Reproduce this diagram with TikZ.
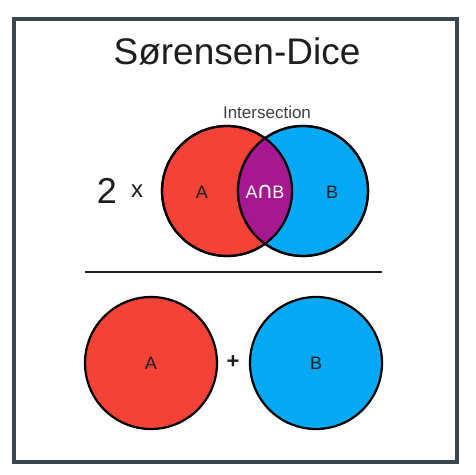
\documentclass[tikz,border=0pt]{standalone}
\usepackage{fontspec}
\setmainfont{Liberation Sans}
\newfontfamily\symfont{DejaVu Sans}
\definecolor{setred}{HTML}{F44336}
\definecolor{setblue}{HTML}{03A9F4}
\definecolor{setpurple}{HTML}{A5188F}
\definecolor{framecol}{HTML}{3A454D}
\definecolor{txt}{HTML}{1E1E1E}
\begin{document}
\begin{tikzpicture}[x=1pt,y=-1pt,
  setcircle/.style={circle,draw=black,line width=2.2pt,inner sep=0pt},
  lbl/.style={font=\fontsize{18}{20}\selectfont,text=txt,inner sep=0pt}]
\useasboundingbox (0,0) rectangle (476,474);
\fill[white] (0,0) rectangle (476,474);
\draw[framecol,line width=3.2pt] (14,19) rectangle (457,462);
\node[font=\fontsize{37}{40}\selectfont,text=txt] (title) at (237,51) {Sørensen-Dice};
% top Venn
\node[setcircle,fill=setred,minimum size=130pt] (vA) at (227,191) {};
\node[setcircle,fill=setblue,minimum size=130pt] (vB) at (303,191) {};
\begin{scope}
  \clip (227,191) circle[radius=65pt];
  \fill[setpurple] (303,191) circle[radius=65pt];
\end{scope}
\draw[black,line width=2.2pt] (227,191) circle[radius=65pt];
\draw[black,line width=2.2pt] (303,191) circle[radius=65pt];
\node[lbl] (la) at (202,192) {A};
\node[lbl,text=white] (lab) at (265,192) {A{\symfont\fontsize{23}{24}\selectfont\kern-1pt∩\kern-1pt}B};
\node[lbl] (lb) at (332,192) {B};
\node[font=\fontsize{17}{19}\selectfont,text=txt!85!white] (inter) at (267,112) {Intersection};
\node[font=\fontsize{36}{40}\selectfont,text=txt] (two) at (107,191) {2};
\node[font=\fontsize{24}{26}\selectfont,text=txt,inner sep=0pt] (times) at (137,191) {x};
% fraction bar
\coordinate (barL) at (85,272);
\coordinate (barR) at (382,272);
\draw[txt,line width=2.5pt] (barL) -- (barR);
% bottom circles
\node[setcircle,fill=setred,minimum size=132pt] (bA) at (151,363) {};
\node[setcircle,fill=setblue,minimum size=132pt] (bB) at (316,363) {};
\node[lbl] at (bA) {A};
\node[lbl] at (bB) {B};
\node[font=\fontsize{22}{24}\selectfont\bfseries,text=txt] (plus) at (233,362) {+};
\end{tikzpicture}
\end{document}
